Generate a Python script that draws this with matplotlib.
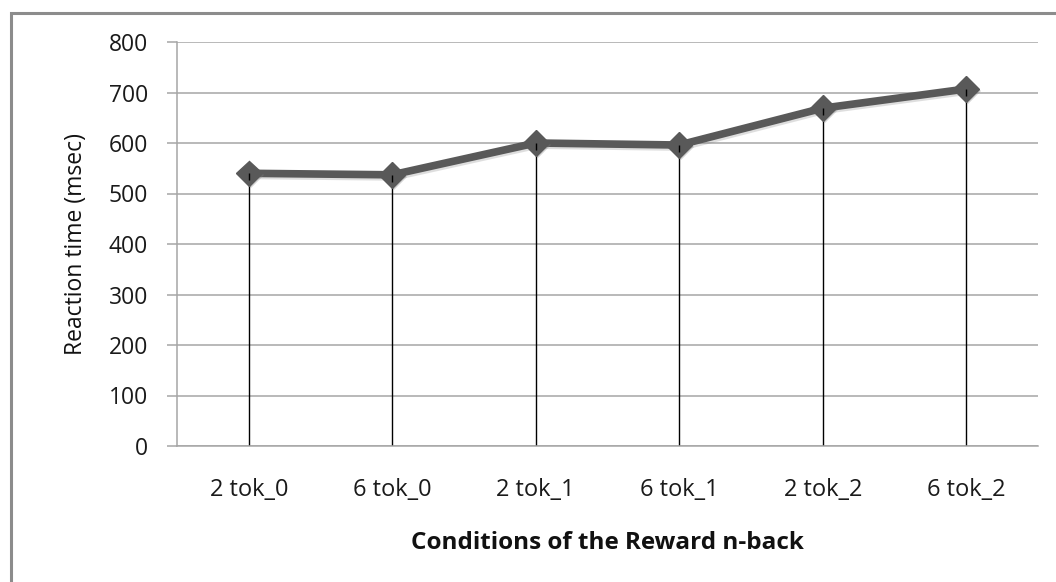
import matplotlib
matplotlib.use("Agg")
import matplotlib.pyplot as plt
import matplotlib.patheffects as pe
from matplotlib.patches import Rectangle

# Mean reaction times per reward n-back condition
conditions = ["2 tok_0", "6 tok_0", "2 tok_1", "6 tok_1", "2 tok_2", "6 tok_2"]
reaction_ms = [540, 537, 600, 596, 669, 707]
y_ticks = [0, 100, 200, 300, 400, 500, 600, 700, 800]

plt.rcParams["font.family"] = ["Open Sans", "DejaVu Sans"]

fig = plt.figure(figsize=(10.56, 5.82), dpi=100)
fig.patch.set_facecolor("white")

# Outer chart frame
fig.patches.append(Rectangle((10.5 / 1056, -0.1), 1.2, 1 - 12.5 / 582 + 0.1,
                             transform=fig.transFigure, fill=False,
                             edgecolor="#8c8c8c", linewidth=2.2, zorder=0))

ax = fig.add_axes([177 / 1056, 1 - 446 / 582, (1038 - 177) / 1056, (446 - 42) / 582])

x = list(range(len(conditions)))

ax.set_ylim(0, 800)
ax.set_xlim(-0.5, len(conditions) - 0.5)
ax.set_yticks(y_ticks)
ax.set_yticklabels([str(v) for v in y_ticks])
ax.set_xticks(x)
ax.set_xticklabels(conditions)

ax.yaxis.grid(True, color="#a6a6a6", linewidth=1.1)
ax.set_axisbelow(True)
for side in ["top", "right"]:
    ax.spines[side].set_visible(False)
for side in ["left", "bottom"]:
    ax.spines[side].set_color("#a6a6a6")
    ax.spines[side].set_linewidth(1.1)

ax.tick_params(axis="y", length=7, color="#a6a6a6", width=1.1, labelsize=16.5,
               labelcolor="#1a1a1a", pad=14)
ax.tick_params(axis="x", length=0, labelsize=17, labelcolor="#1a1a1a", pad=23)

# Drop lines from the axis up to each point
ax.vlines(x, 0, reaction_ms, color="black", linewidth=1.0, zorder=2)

ax.plot(x, reaction_ms, color="#595959", linewidth=5.5, solid_joinstyle="round",
        zorder=3,
        path_effects=[pe.SimpleLineShadow(offset=(1, -1.5), shadow_color="#7f7f7f",
                                          alpha=0.25), pe.Normal()])
ax.plot(x, reaction_ms, linestyle="none", marker="D", markersize=13,
        markerfacecolor="#595959", markeredgecolor="#595959", zorder=4,
        path_effects=[pe.SimplePatchShadow(offset=(1.5, -1.5), shadow_rgbFace="#7f7f7f",
                                           alpha=0.35), pe.Normal()])
ax.vlines(x, [v - 14 for v in reaction_ms], reaction_ms, color="black",
          linewidth=1.0, zorder=5)

ax.set_ylabel("Reaction time (msec)", fontsize=16.5, color="#111111", labelpad=15)
ax.set_xlabel("Conditions of the Reward n-back", fontsize=17.5, fontweight="bold",
              color="#111111", labelpad=21)

fig.savefig("out.png", dpi=100, facecolor="white")
